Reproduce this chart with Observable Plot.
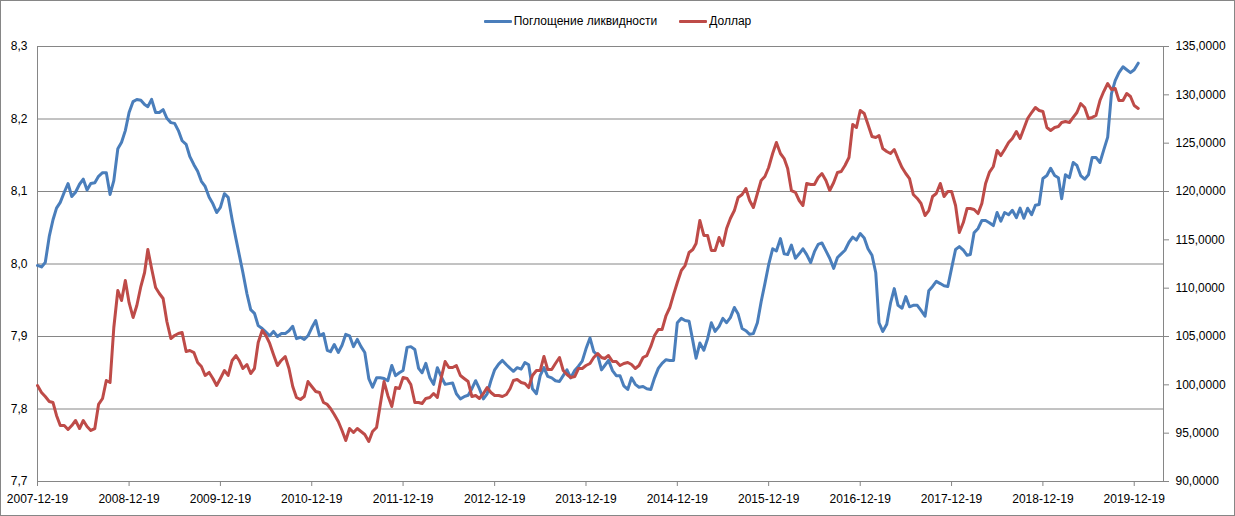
<!DOCTYPE html>
<html>
<head>
<meta charset="utf-8">
<script src="https://cdn.jsdelivr.net/npm/d3@7"></script>
<script src="https://cdn.jsdelivr.net/npm/@observablehq/plot@0.6"></script>
<style>
html,body{margin:0;padding:0;background:#fff;}
#wrap{position:relative;width:1235px;height:516px;overflow:hidden;font-family:"Liberation Sans",Arial,sans-serif;background:#fff;}
#chart{position:absolute;left:0;top:0;}
#border{position:absolute;left:0;top:0;width:1235px;height:516px;box-sizing:border-box;border:1px solid #868686;pointer-events:none;}
#legend{position:absolute;top:14px;left:0;width:100%;height:14px;display:flex;justify-content:center;align-items:center;font-size:12px;color:#000;}
.item{display:flex;align-items:center;}
.item + .item{margin-left:22px;}
.sw{width:28px;height:3px;margin-right:2px;border-radius:1px;}
</style>
</head>
<body>
<div id="wrap">
  <div id="chart"></div>
  <div id="legend"></div>
  <div id="border"></div>
</div>
<script>
// Series names and colours
const seriesNames = ["Поглощение ликвидности", "Доллар"];
const seriesColors = ["#4A7EBB", "#BE4B48"];

// Left axis ticks (liquidity absorption), right axis ticks (dollar)
const leftTicks = [7.7, 7.8, 7.9, 8.0, 8.1, 8.2, 8.3];
const rightTicks = [90, 95, 100, 105, 110, 115, 120, 125, 130, 135];
const xTickYears = [2007, 2008, 2009, 2010, 2011, 2012, 2013, 2014, 2015, 2016, 2017, 2018, 2019];

// Half-monthly observations: 19th of each month and 4th of the following month, from 2007-12-19
const dates = [];
for (let i = 0; i < 145; i++) {
  dates.push(new Date(Date.UTC(2007, 11 + i, 19)));
  dates.push(new Date(Date.UTC(2008, i, 4)));
}

// Поглощение ликвидности (left axis)
const liquidity = [
  7.998, 7.996, 8.002, 8.038, 8.061, 8.077, 8.085, 8.099, 8.111, 8.093,
  8.099, 8.110, 8.117, 8.102, 8.111, 8.112, 8.121, 8.126, 8.126, 8.096,
  8.115, 8.159, 8.168, 8.184, 8.209, 8.224, 8.227, 8.226, 8.220, 8.217,
  8.227, 8.209, 8.209, 8.213, 8.201, 8.195, 8.194, 8.184, 8.170, 8.165,
  8.148, 8.137, 8.128, 8.114, 8.107, 8.092, 8.083, 8.071, 8.078, 8.097,
  8.092, 8.061, 8.035, 8.013, 7.988, 7.959, 7.937, 7.932, 7.915, 7.911,
  7.906, 7.901, 7.907, 7.900, 7.904, 7.904, 7.908, 7.914, 7.897, 7.899,
  7.896, 7.901, 7.912, 7.922, 7.901, 7.904, 7.881, 7.879, 7.889, 7.878,
  7.888, 7.903, 7.901, 7.886, 7.896, 7.886, 7.878, 7.842, 7.830, 7.843,
  7.843, 7.842, 7.839, 7.860, 7.846, 7.850, 7.853, 7.885, 7.886, 7.882,
  7.856, 7.850, 7.863, 7.843, 7.834, 7.857, 7.845, 7.834, 7.835, 7.836,
  7.821, 7.814, 7.817, 7.819, 7.828, 7.839, 7.828, 7.814, 7.821, 7.839,
  7.854, 7.862, 7.867, 7.861, 7.856, 7.852, 7.857, 7.855, 7.864, 7.861,
  7.828, 7.821, 7.846, 7.857, 7.845, 7.843, 7.839, 7.838, 7.846, 7.854,
  7.843, 7.853, 7.859, 7.866, 7.883, 7.898, 7.879, 7.874, 7.854, 7.860,
  7.867, 7.853, 7.846, 7.846, 7.832, 7.827, 7.843, 7.834, 7.830, 7.831,
  7.828, 7.827, 7.843, 7.856, 7.863, 7.868, 7.867, 7.867, 7.919, 7.925,
  7.922, 7.921, 7.894, 7.870, 7.891, 7.881, 7.897, 7.919, 7.907, 7.914,
  7.925, 7.919, 7.926, 7.940, 7.931, 7.911, 7.908, 7.903, 7.904, 7.919,
  7.948, 7.973, 7.999, 8.021, 8.018, 8.035, 8.014, 8.013, 8.026, 8.008,
  8.014, 8.021, 8.013, 8.002, 8.017, 8.027, 8.029, 8.018, 8.008, 7.994,
  8.009, 8.014, 8.019, 8.030, 8.037, 8.033, 8.042, 8.036, 8.021, 8.012,
  7.988, 7.919, 7.907, 7.917, 7.946, 7.966, 7.943, 7.939, 7.955, 7.941,
  7.943, 7.943, 7.936, 7.928, 7.963, 7.969, 7.976, 7.973, 7.970, 7.969,
  7.994, 8.020, 8.024, 8.019, 8.012, 8.013, 8.043, 8.049, 8.060, 8.060,
  8.057, 8.053, 8.071, 8.059, 8.071, 8.068, 8.074, 8.064, 8.077, 8.063,
  8.077, 8.068, 8.081, 8.082, 8.118, 8.122, 8.132, 8.122, 8.119, 8.090,
  8.123, 8.119, 8.140, 8.136, 8.122, 8.117, 8.123, 8.147, 8.147, 8.140,
  8.157, 8.175, 8.235, 8.253, 8.264, 8.272, 8.268, 8.264, 8.268, 8.277
];

// Доллар (right axis)
const dollar = [
  99.93, 99.21, 98.79, 98.28, 98.17, 96.83, 95.79, 95.79, 95.38, 95.79,
  96.31, 95.48, 96.31, 95.69, 95.28, 95.48, 97.97, 98.59, 100.45, 100.24,
  105.93, 109.76, 108.72, 110.79, 108.50, 106.97, 108.21, 110.17, 111.62, 114.00,
  112.03, 110.07, 109.45, 108.93, 106.55, 104.79, 105.10, 105.31, 105.41, 103.45,
  103.55, 103.34, 102.31, 101.90, 100.97, 101.28, 100.66, 99.93, 100.66, 101.48,
  100.97, 102.52, 103.03, 102.52, 101.69, 102.10, 101.17, 101.69, 104.38, 105.62,
  105.10, 104.28, 103.14, 102.00, 102.52, 102.93, 101.69, 99.83, 98.69, 98.48,
  98.79, 100.34, 99.83, 99.31, 99.21, 98.17, 97.97, 97.55, 96.93, 96.21,
  95.28, 94.24, 95.48, 95.07, 95.48, 95.17, 94.86, 94.14, 95.17, 95.59,
  97.97, 100.34, 98.90, 97.76, 99.72, 99.62, 100.76, 100.66, 100.03, 98.17,
  98.17, 98.07, 98.59, 98.69, 99.10, 98.69, 100.66, 102.41, 101.79, 101.79,
  102.00, 100.97, 100.66, 100.34, 98.79, 98.90, 98.59, 99.10, 99.72, 99.21,
  98.90, 98.90, 98.79, 99.00, 99.62, 100.45, 100.55, 100.24, 100.14, 99.72,
  100.97, 101.48, 101.48, 102.93, 101.59, 101.59, 102.21, 102.83, 101.48, 101.07,
  100.76, 100.86, 101.69, 101.69, 102.00, 102.21, 102.83, 103.24, 102.83, 102.72,
  103.03, 102.41, 102.41, 102.00, 102.21, 102.31, 102.10, 101.69, 102.00, 102.83,
  103.03, 103.97, 105.10, 105.72, 105.72, 107.17, 108.00, 109.34, 110.59, 111.83,
  112.34, 113.69, 114.00, 114.62, 117.00, 115.45, 115.45, 113.90, 113.90, 115.24,
  114.41, 116.17, 117.21, 118.03, 119.38, 119.69, 120.31, 119.07, 118.34, 119.79,
  121.14, 121.55, 122.48, 123.93, 125.07, 123.93, 123.41, 122.38, 120.10, 119.90,
  119.07, 118.55, 120.83, 120.72, 120.72, 121.45, 121.86, 121.14, 120.10, 120.93,
  121.97, 122.07, 122.69, 123.52, 126.93, 126.62, 128.38, 128.07, 126.93, 125.69,
  125.59, 125.79, 124.45, 124.14, 123.93, 124.34, 123.41, 122.48, 121.86, 121.34,
  119.69, 119.28, 118.76, 117.52, 118.03, 119.48, 119.79, 120.83, 119.48, 120.00,
  120.00, 118.55, 115.76, 116.79, 118.24, 118.24, 118.14, 117.72, 118.76, 120.83,
  121.97, 122.59, 124.24, 123.72, 124.34, 125.07, 125.48, 126.21, 125.48, 126.52,
  127.55, 128.17, 128.69, 128.38, 128.28, 126.62, 126.31, 126.62, 126.72, 127.14,
  127.24, 127.14, 127.66, 128.17, 129.10, 128.69, 127.55, 127.66, 127.86, 129.41,
  130.34, 131.17, 130.55, 130.66, 129.41, 129.41, 130.14, 129.83, 128.90, 128.59
];

// Dual-axis mapping: right-axis values are placed on the left scale
const L0 = leftTicks[0], L1 = leftTicks[leftTicks.length - 1];
const R0 = rightTicks[0], R1 = rightTicks[rightTicks.length - 1];
const toLeft = v => L0 + (v - R0) * (L1 - L0) / (R1 - R0);
const fromLeft = y => R0 + (y - L0) * (R1 - R0) / (L1 - L0);

const blueData = dates.map((d, i) => ({date: d, v: liquidity[i]}));
const redData = dates.map((d, i) => ({date: d, v: toLeft(dollar[i])}));
const xTicks = xTickYears.map(y => new Date(Date.UTC(y, 11, 19)));

const chart = Plot.plot({
  width: 1235,
  height: 516,
  marginTop: 46,
  marginBottom: 35,
  marginLeft: 37,
  marginRight: 72,
  style: {background: "transparent", fontFamily: "'Liberation Sans', Arial, sans-serif", fontSize: "12px", color: "#000"},
  x: {type: "utc", domain: [new Date(Date.UTC(2007, 11, 19)), new Date(Date.UTC(2020, 3, 14))]},
  y: {domain: [L0, L1]},
  marks: [
    Plot.gridY(leftTicks, {stroke: "#868686", strokeOpacity: 1, strokeWidth: 1}),
    Plot.frame({stroke: "#868686"}),
    Plot.axisY(leftTicks, {anchor: "left", tickSize: 0, tickPadding: 10, label: null,
      tickFormat: d => d.toFixed(1).replace(".", ","), fill: "#000"}),
    Plot.axisY(rightTicks.map(toLeft), {anchor: "right", tickSize: 5, tickPadding: 7, label: null,
      stroke: "#868686", fill: "#000",
      tickFormat: d => fromLeft(d).toFixed(4).replace(".", ",")}),
    Plot.axisX(xTicks, {anchor: "bottom", tickSize: 5, tickPadding: 8, label: null,
      stroke: "#868686", fill: "#000", tickFormat: d3.utcFormat("%Y-%m-%d")}),
    Plot.lineY(blueData, {x: "date", y: "v", stroke: seriesColors[0], strokeWidth: 3}),
    Plot.lineY(redData, {x: "date", y: "v", stroke: seriesColors[1], strokeWidth: 3})
  ]
});
document.getElementById("chart").appendChild(chart);

// Legend
const legend = document.getElementById("legend");
seriesNames.forEach((name, i) => {
  const item = document.createElement("div");
  item.className = "item";
  const sw = document.createElement("span");
  sw.className = "sw";
  sw.style.background = seriesColors[i];
  const t = document.createElement("span");
  t.textContent = name;
  item.appendChild(sw);
  item.appendChild(t);
  legend.appendChild(item);
});
</script>
</body>
</html>
